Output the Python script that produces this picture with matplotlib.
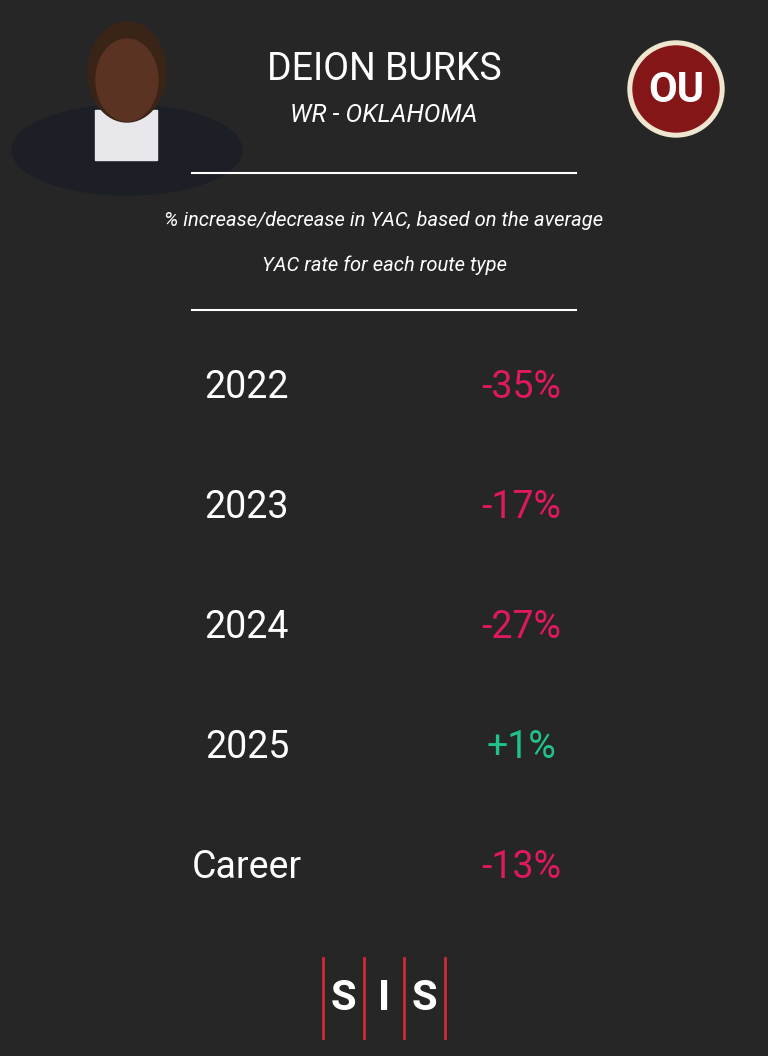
import matplotlib
matplotlib.use("Agg")
import matplotlib.pyplot as plt
from matplotlib.patches import Circle, Ellipse, Rectangle

seasons = ["2022", "2023", "2024", "2025", "Career"]
yac_pct = [-35, -17, -27, 1, -13]
player = "DEION BURKS"
subtitle = "WR - OKLAHOMA"
note = ["% increase/decrease in YAC, based on the average", "YAC rate for each route type"]

W, H = 768, 1056
BG = "#262626"
NEG = "#e0185f"
POS = "#20c489"
FONT = ["Roboto", "DejaVu Sans"]

fig = plt.figure(figsize=(W/100, H/100), dpi=100, facecolor=BG)
ax = fig.add_axes([0, 0, 1, 1])
ax.set_xlim(0, W); ax.set_ylim(H, 0); ax.axis("off")
ax.set_facecolor(BG)

# headshot placeholder
ax.add_patch(Ellipse((127, 150), 230, 90, color="#1c1f26", zorder=1))
ax.add_patch(Rectangle((95, 110), 62, 50, color="#e8e8ec", zorder=2))
ax.add_patch(Ellipse((127, 72), 78, 100, color="#3a2418", zorder=3))
ax.add_patch(Ellipse((127, 80), 62, 82, color="#5a3322", zorder=4))

# OU logo
ax.add_patch(Circle((676, 89), 48, color="#efe6d0", zorder=2))
ax.add_patch(Circle((676, 89), 43, color="#841617", zorder=3))
ax.text(676, 91, "OU", color="white", fontsize=30, fontweight="bold", ha="center", va="center",
        family=FONT, zorder=4)

ax.text(384, 70, player, color="white", fontsize=27, ha="center", va="center", family=FONT)
ax.text(384, 115, subtitle, color="white", fontsize=18, style="italic", ha="center", va="center", family=FONT)
ax.plot([192, 576], [173, 173], color="white", lw=1.5)
ax.text(384, 220, note[0], color="white", fontsize=14.5, style="italic", ha="center", va="center", family=FONT)
ax.text(384, 265, note[1], color="white", fontsize=14.5, style="italic", ha="center", va="center", family=FONT)
ax.plot([192, 576], [310, 310], color="white", lw=1.5)

ys = [388, 508, 628, 748, 868]
for y, s, v in zip(ys, seasons, yac_pct):
    ax.text(247, y, s, color="white", fontsize=27, ha="center", va="center", family=FONT)
    lab = f"+{v}%" if v > 0 else f"-{abs(v)}%"
    ax.text(521, y, lab, color=POS if v > 0 else NEG, fontsize=27, ha="center", va="center", family=FONT)

# SIS logo
for x in [323, 364, 404, 445]:
    ax.plot([x, x], [958, 1038], color="#d02a3a", lw=2)
for x, ch in zip([343, 384, 424], "SIS"):
    ax.text(x, 998, ch, color="white", fontsize=30, fontweight="bold", ha="center", va="center", family=FONT)

fig.savefig("out.png", dpi=100, facecolor=BG)
